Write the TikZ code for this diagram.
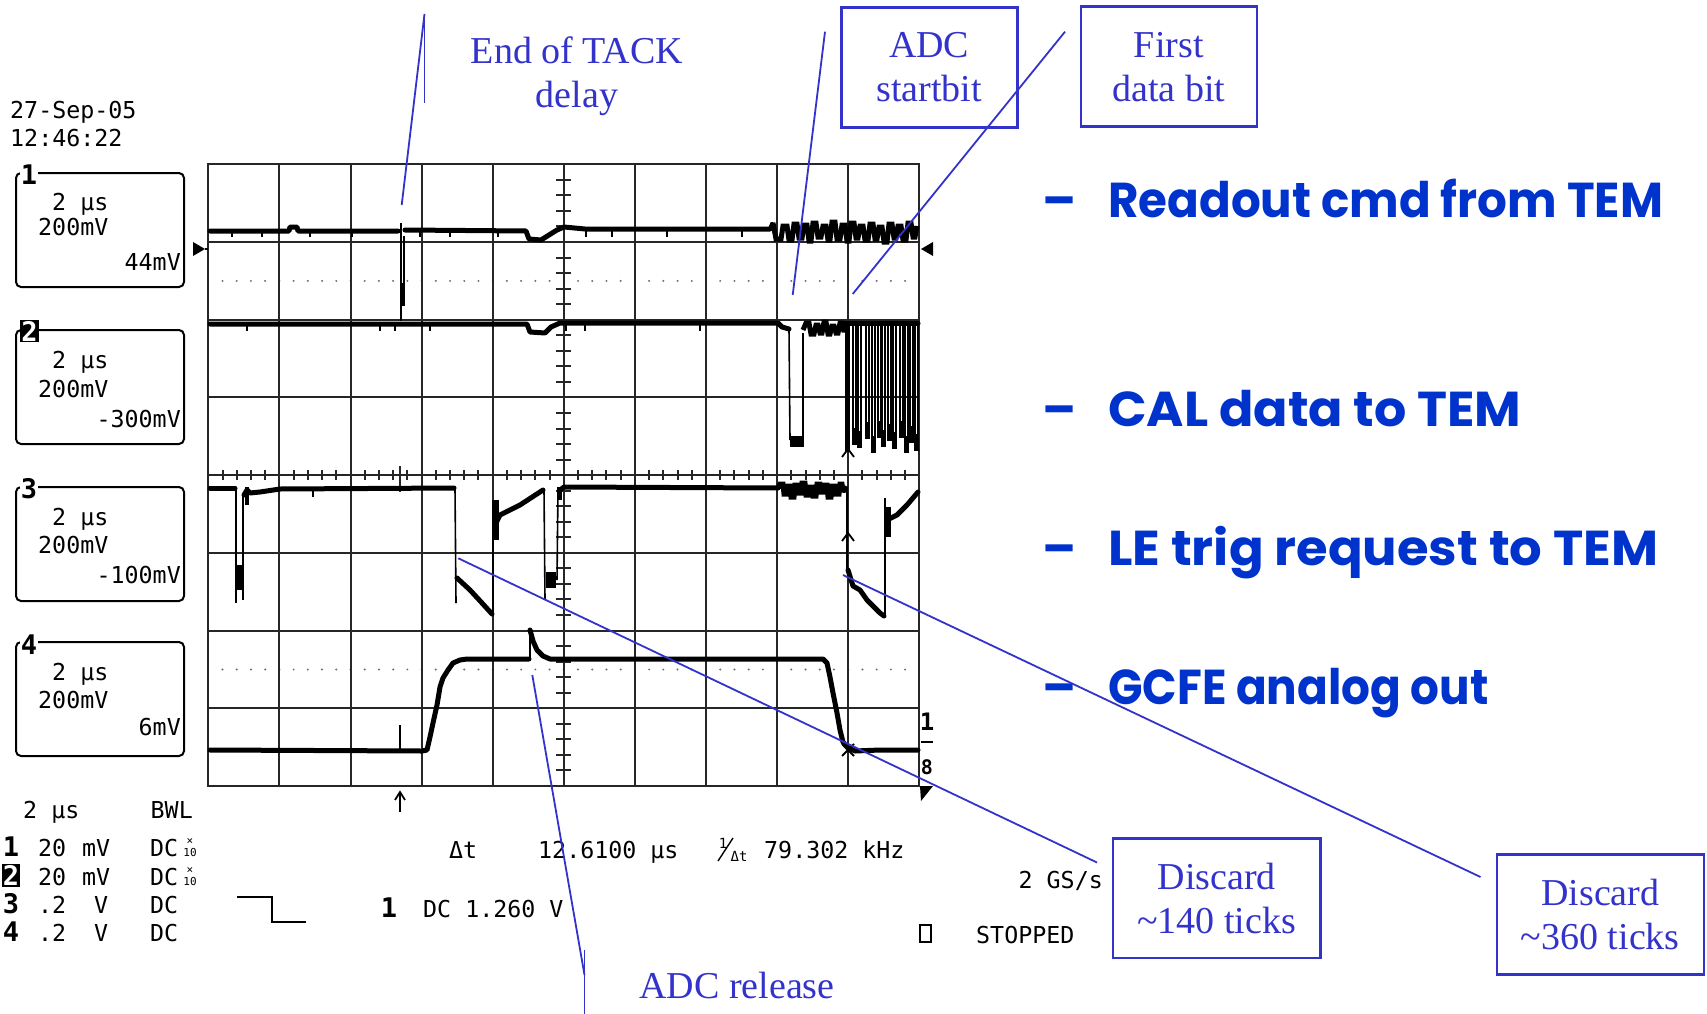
\documentclass[tikz,border=0pt]{standalone}
\usepackage{fontspec}
\usepackage{graphicx}
\setmainfont{Liberation Serif}
\newfontfamily\monofnt{DejaVu Sans Mono}
\newfontfamily\bulletfnt{Poppins}
\usetikzlibrary{calc}

\definecolor{annot}{RGB}{51,51,204}
\definecolor{bulletblue}{RGB}{0,51,204}
\definecolor{dotgray}{RGB}{110,110,110}

\newcommand{\annotfont}{\fontsize{38}{44}\selectfont}
\newcommand{\oscfont}{\monofnt\fontsize{23.3}{28}\selectfont}
\newcommand{\oscsmall}{\monofnt\fontsize{11}{11}\selectfont}
\newcommand{\oscfrac}{\monofnt\fontsize{14}{14}\selectfont}
\newcommand{\chnumfont}{\monofnt\bfseries\fontsize{27}{30}\selectfont}
\newcommand{\bulletfont}{\bulletfnt\bfseries\fontsize{49}{56}\selectfont}

\tikzset{
  gridline/.style={line width=2pt, black!85},
  trace/.style={line width=5pt, line join=round, line cap=round},
  noisy/.style={line width=5pt, line join=miter, miter limit=3, line cap=butt},
  thintrace/.style={line width=1.6pt},
  annotline/.style={annot, line width=1.8pt},
  annotbox/.style={draw=annot, line width=2.6pt, text=annot, align=center,
                   font=\annotfont, inner sep=0pt},
  annottext/.style={text=annot, align=center, font=\annotfont, inner sep=0pt},
  osc/.style={font=\oscfont, inner sep=0pt},
  chbox/.style={draw, line width=2pt, rounded corners=5pt},
  chnum/.style={font=\chnumfont, fill=white, inner sep=1pt},
  chnuminv/.style={font=\chnumfont, fill=black, text=white, inner sep=1pt},
  bullet/.style={text=bulletblue, font=\bulletfont, inner sep=0pt},
  marker/.style={line width=1.8pt},
}

\begin{document}
\begin{tikzpicture}[x=1pt,y=-1pt]
\useasboundingbox (0,0) rectangle (1707,1014);
\fill[white] (0,0) rectangle (1707,1014);

% ---------- graticule ----------
\foreach \k in {1,...,49} {
  \fill[dotgray] ({208.3+14.22*\k},280.9) circle (1.1pt);
  \fill[dotgray] ({208.3+14.22*\k},669.5) circle (1.1pt);
}
\draw[gridline] (208.3,164.3) rectangle (919.3,786);
\foreach \i in {1,...,9}
  \draw[gridline] ({208.3+71.1*\i},164.3) -- ({208.3+71.1*\i},786);
\foreach \j in {1,...,7}
  \draw[gridline] (208.3,{164.3+77.71*\j}) -- (919.3,{164.3+77.71*\j});
\foreach \k in {1,...,39}
  \draw[gridline] (556.3,{164.3+15.542*\k}) -- (571.3,{164.3+15.542*\k});
\foreach \k in {1,...,49}
  \draw[gridline] ({208.3+14.22*\k},470) -- ({208.3+14.22*\k},480.3);
\draw[gridline] (400,466) -- (400,492);

% ---------- channel 1 ----------
\draw[trace] (210,231) -- (289,231) -- (290,227) -- (297,227) -- (298,231) -- (398,231);
\draw[thintrace] (401,223) -- (401,321);
\draw[thintrace] (404,236) -- (404,290);
\fill (399.5,283) rectangle (405,306);
\draw[trace] (405,230) -- (526,231) -- (529,239) -- (541,240) -- (549,235)
  -- (557,230) -- (564,227) -- (585,229) -- (770,229);
\foreach \x in {232,262,310,352,420,450,498,586,612,667,742}
  \draw[thintrace] (\x,231) -- (\x,237);
\draw[noisy] (770,230) \foreach \x/\y in {773/223, 776/239, 781/239, 783/226,
  787/226, 789/240, 792/240, 794/224, 797/224, 799/238, 802/238, 804/225,
  807/225, 809/241, 811/241, 813/223, 816/223, 818/237, 821/237, 823/226,
  826/226, 828/240, 830/240, 832/222, 835/222, 837/239, 840/239, 842/225,
  845/225, 847/241, 849/241, 851/223, 854/223, 856/238, 858/238, 860/226,
  863/226, 865/240, 868/240, 870/224, 873/224, 875/239, 877/239, 879/227,
  882/227, 884/242, 887/242, 889/224, 892/224, 894/238, 896/238, 898/226,
  901/226, 903/240, 906/240, 908/223, 911/223, 913/237, 915/237, 917/226} { -- (\x,\y) };

% ---------- channel 2 ----------
\draw[trace] (210,324) -- (527,324) -- (530,332) -- (545,333) -- (551,327)
  -- (560,323) -- (778,323) -- (782,327) -- (789,329);
\foreach \x in {247,380,395,430,566,585,700}
  \draw[thintrace] (\x,324) -- (\x,331);
\draw[thintrace] (789,329) -- (790,440);
\draw[thintrace] (803,440) -- (803,333);
\fill (790,436) rectangle (804,447);
\draw[noisy] (803,330) \foreach \x/\y in {806/323, 809/323, 811/334, 814/334,
  816/325, 818/325, 820/333, 822/333, 824/322, 826/322, 828/334, 830/334,
  832/326, 834/326, 836/333, 838/333, 840/323, 842/323, 844/332, 846/324} { -- (\x,\y) };
\fill (845,321) rectangle (850,452);
\draw[trace] (845,323) -- (918,323);
\foreach \x/\d in {853/444, 858/447, 866/438, 872/452, 878/437, 882/446,
  888/440, 893/448, 900/437, 905/452, 910/442, 915/450} {
  \draw[line width=2pt] (\x,322) -- (\x,\d) -- ({\x+2.5},\d) -- ({\x+2.5},322);
  \fill ({\x-1},{\d-16}) rectangle ({\x+3.5},\d);
}

% ---------- channel 3 ----------
\draw[trace] (210,488) -- (235,488);
\draw[thintrace] (236,490) -- (236,603);
\draw[thintrace] (243,600) -- (243,495);
\fill (236,565) rectangle (243,590);
\fill (245,487) rectangle (249,505);
\draw[trace] (244,495) -- (247,490) -- (250,493) -- (260,492) -- (280,489) -- (454,488);
\draw[thintrace] (313,488) -- (313,497);
\draw[thintrace] (455,488) -- (456,603);
\draw[trace] (457,578) -- (470,590) -- (482,603) -- (492,614);
\draw[thintrace] (493,614) -- (493,500);
\fill (492,500) rectangle (499,540);
\draw[trace] (495,525) -- (500,515) -- (520,505) -- (543,490);
\draw[thintrace] (544,490) -- (545,600);
\fill (546,572) rectangle (556,588);
\draw[thintrace] (557,580) -- (558,490);
\fill (557,487) rectangle (562,500);
\draw[trace] (560,490) -- (564,487) -- (778,488);
\draw[noisy] (778,488) \foreach \x/\y in {780/484, 783/484, 784/494, 787/494,
  788/486, 790/486, 791/497, 794/497, 795/485, 798/485, 799/493, 801/493,
  802/483, 805/483, 806/495, 809/495, 810/487, 812/487, 813/496, 816/496,
  817/484, 820/484, 821/492, 824/492, 825/485, 827/485, 828/497, 831/497,
  832/486, 835/486, 836/494, 839/494, 840/484, 842/484, 843/492, 846/486} { -- (\x,\y) };
\draw[thintrace] (847,488) -- (847,570);
\draw[trace] (848,570) -- (853,586) -- (860,590) -- (867,600) -- (873,606)
  -- (880,613) -- (884,616);
\draw[thintrace] (885,617) -- (885,498);
\fill (885,507) rectangle (891,537);
\draw[trace] (887,520) -- (897,515) -- (907,505) -- (918,492);

% ---------- channel 4 ----------
\draw[trace] (210,750) -- (422,751) -- (427,750) -- (430,737) -- (433,723)
  -- (437,705) -- (440,687) -- (443,678) -- (448,670) -- (453,663) -- (460,660)
  -- (467,659) -- (529,659);
\draw[thintrace] (400,750) -- (400,725);
\draw[thintrace] (530,659) -- (530,628);
\draw[trace] (530,630) -- (533,641) -- (537,650) -- (543,656) -- (550,659)
  -- (823,659) -- (827,663) -- (830,677) -- (833,693) -- (837,713) -- (840,730)
  -- (843,742) -- (847,747) -- (855,751) -- (880,750) -- (918,750);

% ---------- cursors and screen markers ----------
\draw[marker] (842,457) -- (848,449) -- (854,457);
\draw[marker] (842,541) -- (848,533) -- (854,541);
\draw[marker] (842,744) -- (854,756) (842,756) -- (854,744);
\draw[marker] (400,812) -- (400,792);
\draw[marker] (395,800) -- (400,792) -- (405,800);
\fill (193,242) -- (205,249) -- (193,256) -- cycle;
\draw[line width=2pt] (205,249) -- (208,249);
\fill (933,242) -- (921,249) -- (933,256) -- cycle;
\fill (920,786) -- (933,786) -- (921,801) -- cycle;
\node[font=\monofnt\bfseries\fontsize{24}{24}\selectfont, inner sep=0pt] (trig1) at (927,722) {1};
\draw[line width=2.5pt] (921,742) -- (933,742);
\node[font=\monofnt\bfseries\fontsize{20}{20}\selectfont, inner sep=0pt] (trig8) at (927,767) {8};

% ---------- date and channel boxes ----------
\node[osc, anchor=base west] (date) at (10,118.3) {27-Sep-05};
\node[osc, anchor=base west] (time) at (10,146.7) {12:46:22};

\foreach \t in {173,330,487,642}
  \draw[chbox] (16,\t) rectangle (184,\t+114);

\node[chnum] (c1) at (29,175) {1};
\node[chnuminv] (c2) at (29.5,331) {2};
\node[chnum] (c3) at (29,489) {3};
\node[chnum] (c4) at (29,645) {4};

\node[osc, anchor=base west] at (52,210) {2 μs};
\node[osc, anchor=base west] at (38,235) {200mV};
\node[osc, anchor=base east] at (181,270) {44mV};

\node[osc, anchor=base west] at (52,368.5) {2 μs};
\node[osc, anchor=base west] at (38,397) {200mV};
\node[osc, anchor=base east] at (181,427) {-300mV};

\node[osc, anchor=base west] at (52,525) {2 μs};
\node[osc, anchor=base west] at (38,553.5) {200mV};
\node[osc, anchor=base east] at (181,583.5) {-100mV};

\node[osc, anchor=base west] at (52,680) {2 μs};
\node[osc, anchor=base west] at (38,708.5) {200mV};
\node[osc, anchor=base east] at (181,735) {6mV};

% ---------- acquisition summary ----------
\node[osc, anchor=base west] at (23,818.5) {2 μs};
\node[osc, anchor=base east] at (193,818.5) {BWL};

\node[chnum, anchor=base] at (11,856.5) {1};
\node[chnuminv, anchor=base] at (11,885.5) {2};
\node[chnum, anchor=base] at (11,913.5) {3};
\node[chnum, anchor=base] at (11,941.5) {4};

\foreach \yb in {856.5,885.5} {
  \node[osc, anchor=base west] at (38,\yb) {20};
  \node[osc, anchor=base west] at (82,\yb) {mV};
  \node[osc, anchor=base west] at (150,\yb) {DC};
  \node[font=\oscsmall, inner sep=0pt] at (190,\yb-15) {×};
  \node[font=\oscsmall, inner sep=0pt] at (190,\yb-4) {10};
}
\foreach \yb in {913.5,941.5} {
  \node[osc, anchor=base west] at (38,\yb) {.2};
  \node[osc, anchor=base west] at (94,\yb) {V};
  \node[osc, anchor=base west] at (150,\yb) {DC};
}

\draw[line width=2.5pt] (237,897) -- (272,897) -- (272,922) -- (306,922);
\node[chnum, anchor=base] at (389,917) {1};
\node[osc, anchor=base west] at (423,917) {DC 1.260 V};

\node[osc, anchor=base west] at (449,858.5) {Δt};
\node[osc, anchor=base west] at (538,858.5) {12.6100 μs};
\node[font=\oscfrac, inner sep=0pt] at (723,843) {1};
\draw[line width=1.4pt] (718,861) -- (733,838);
\node[font=\oscfrac, inner sep=0pt] at (739,856) {Δt};
\node[osc, anchor=base west] at (764,858.5) {79.302 kHz};

\node[osc, anchor=base east] at (1103,888.5) {2 GS/s};
\draw[line width=2pt] (920,925) rectangle (931,942);
\node[osc, anchor=base west] at (976,943) {STOPPED};

% ---------- signal names ----------
\foreach \yb/\sx/\txt in {217/0.955/Readout cmd from TEM, 426/1.035/CAL data to TEM,
                          565/1.045/LE trig request to TEM, 704/0.925/GCFE analog out} {
  \node[bullet, anchor=base] at (1060,\yb) {–};
  \node[bullet, anchor=base west] at (1108,\yb) {\scalebox{\sx}[1]{\txt}};
}

% ---------- callouts ----------
\node[annottext] (tack) at (577,76) {End of TACK\\delay};
\node[annotbox, minimum width=176pt, minimum height=120pt] (startbit)
  at (929.2,67.5) {ADC\\startbit};
\node[annotbox, minimum width=176pt, minimum height=120pt] (firstbit)
  at (1168.8,66.7) {First\\data bit};
\node[annotbox, minimum width=207.5pt, minimum height=119.7pt] (disc140)
  at (1216.8,898.2) {Discard\\\textasciitilde140 ticks};
\node[annotbox, minimum width=207pt, minimum height=119.7pt] (disc360)
  at (1600.3,914.5) {Discard\\\textasciitilde360 ticks};
\node[annottext] (release) at (737,985) {ADC release};

\coordinate (tackTop) at (424.5,14);
\coordinate (tackTip) at (401.7,205);
\coordinate (tackFoot) at (424.5,103);
\coordinate (sbTop) at (825,31.7);
\coordinate (sbTip) at (792.7,295);
\coordinate (fbTop) at (1065,31.7);
\coordinate (fbTip) at (852.7,294);
\coordinate (d140end) at (1097,862.5);
\coordinate (d140tip) at (458.3,558.3);
\coordinate (d360end) at (1480.5,877);
\coordinate (d360tip) at (843,575);
\coordinate (relTip) at (532.3,675);
\coordinate (relKnee) at (584.5,975);
\coordinate (relTop) at (584.5,950);
\coordinate (relFoot) at (584.5,1014);

\draw[annotline] (tackTop) -- (tackTip);
\draw[annotline] (tackTop) -- (tackFoot);
\draw[annotline] (sbTop) -- (sbTip);
\draw[annotline] (fbTop) -- (fbTip);
\draw[annotline] (d140end) -- (d140tip);
\draw[annotline] (d360end) -- (d360tip);
\draw[annotline] (relTip) -- (relKnee);
\draw[annotline] (relTop) -- (relFoot);
\end{tikzpicture}
\end{document}
